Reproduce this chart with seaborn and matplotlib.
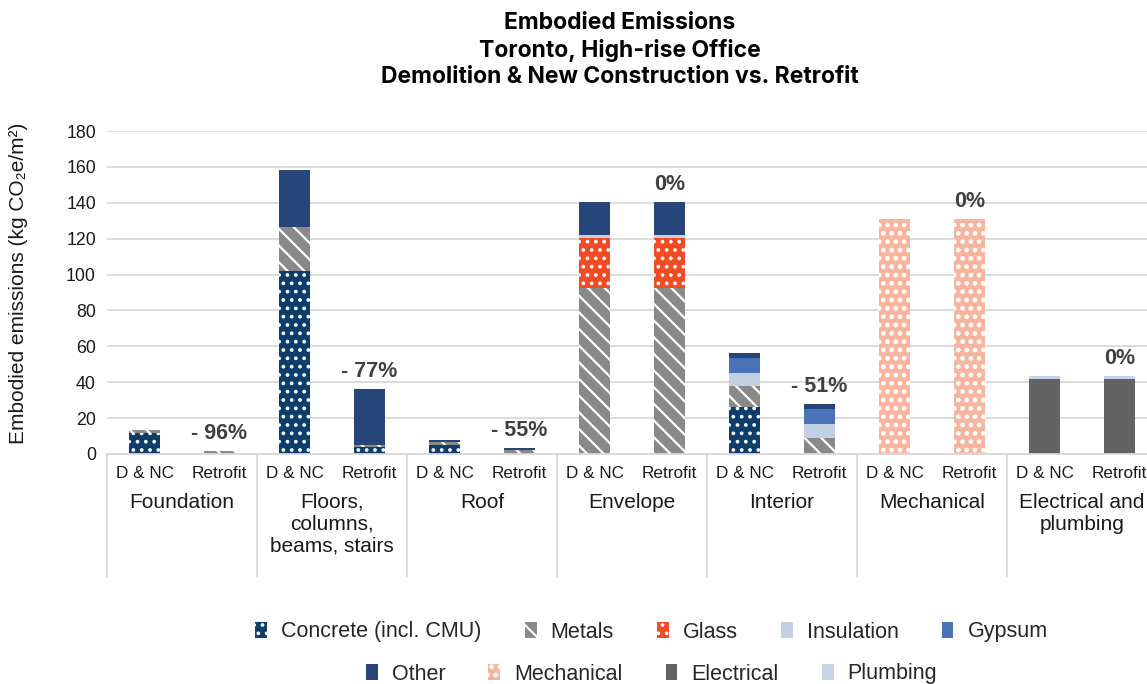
import matplotlib
matplotlib.use("Agg")
import matplotlib.pyplot as plt
import matplotlib.hatch as mhatch
import matplotlib.transforms as mtransforms
from matplotlib.patches import Patch
import numpy as np
import pandas as pd
import seaborn as sns

# ---- data -------------------------------------------------------------
groups = ["Foundation", "Floors,\ncolumns,\nbeams, stairs", "Roof", "Envelope",
          "Interior", "Mechanical", "Electrical and\nplumbing"]
scenarios = ["D & NC", "Retrofit"]
change_labels = ["- 96%", "- 77%", "- 55%", "0%", "- 51%", "0%", "0%"]

materials = ["Concrete (incl. CMU)", "Metals", "Glass", "Insulation", "Gypsum",
             "Other", "Mechanical", "Electrical", "Plumbing"]

# kg CO2e/m2, one value per bar (group x scenario)
concrete   = [11.7, 0.0, 102.2, 3.7, 5.0, 0.0, 0.0, 0.0, 26.4, 0.0, 0.0, 0.0, 0.0, 0.0]
metals     = [1.6, 1.8, 24.5, 1.3, 1.5, 2.2, 92.4, 92.4, 11.5, 9.1, 0.0, 0.0, 0.0, 0.0]
glass      = [0.0, 0.0, 0.0, 0.0, 0.0, 0.0, 28.2, 28.2, 0.0, 0.0, 0.0, 0.0, 0.0, 0.0]
insulation = [0.0, 0.0, 0.0, 0.0, 0.0, 0.0, 1.5, 1.5, 7.0, 7.4, 0.0, 0.0, 0.0, 0.0]
gypsum     = [0.0, 0.0, 0.0, 0.0, 0.0, 0.0, 0.0, 0.0, 8.7, 8.5, 0.0, 0.0, 0.0, 0.0]
other      = [0.0, 0.0, 31.3, 31.4, 1.3, 1.3, 18.5, 18.5, 2.8, 2.9, 0.0, 0.0, 0.0, 0.0]
mechanical = [0.0, 0.0, 0.0, 0.0, 0.0, 0.0, 0.0, 0.0, 0.0, 0.0, 130.8, 130.8, 0.0, 0.0]
electrical = [0.0, 0.0, 0.0, 0.0, 0.0, 0.0, 0.0, 0.0, 0.0, 0.0, 0.0, 0.0, 41.8, 41.8]
plumbing   = [0.0, 0.0, 0.0, 0.0, 0.0, 0.0, 0.0, 0.0, 0.0, 0.0, 0.0, 0.0, 1.7, 1.7]

series = [concrete, metals, glass, insulation, gypsum, other, mechanical, electrical, plumbing]

# ---- styling ----------------------------------------------------------
styles = {
    "Concrete (incl. CMU)": ("#0C3D6B", ".."),
    "Metals":               ("#898989", "\\\\"),
    "Glass":                ("#F04B23", ".."),
    "Insulation":           ("#C3CFE2", None),
    "Gypsum":               ("#4A72B9", None),
    "Other":                ("#26467A", None),
    "Mechanical":           ("#F9B49E", "oo"),
    "Electrical":           ("#636363", None),
    "Plumbing":             ("#C5D4E8", None),
}

# small white dots; filled dots for the mechanical pattern
mhatch.SmallFilledCircles.size = 0.09
mhatch.SmallCircles.filled = True
mhatch.SmallCircles.size = 0.15

sns.set_theme(style="white")
plt.rcParams["font.family"] = ["Liberation Sans", "DejaVu Sans"]
plt.rcParams["hatch.linewidth"] = 1.6

TXT = "#1a1a1a"

slots = [f"{g}|{s}" for g in groups for s in scenarios]
df = pd.DataFrame({"slot": slots})
stack = np.cumsum(np.array(series), axis=0)
for name, cum in zip(materials, stack):
    df[name] = cum

fig = plt.figure(figsize=(11.47, 6.84), dpi=100)
ax = fig.add_axes([107 / 1147, 1 - 454 / 684, 1050 / 1147, 323 / 684])

# stacked bars: draw cumulative totals from the top segment downwards
for name in reversed(materials):
    color, hatch = styles[name]
    kw = dict(edgecolor="white", linewidth=0)
    if hatch:
        kw["hatch"] = hatch
    sns.barplot(data=df, x="slot", y=name, order=slots, color=color,
                saturation=1, width=0.41, ax=ax, **kw)

ax.set_ylim(0, 180)
ax.set_xlim(-0.5, len(slots) - 0.5)
ax.set_yticks(range(0, 181, 20))
ax.yaxis.grid(True, color="#D9D9D9", lw=1.3)
ax.set_axisbelow(True)
for side in ["left", "right", "top"]:
    ax.spines[side].set_visible(False)
ax.spines["bottom"].set_color("#D9D9D9")
ax.spines["bottom"].set_linewidth(1.3)

ax.set_xticks(range(len(slots)))
ax.set_xticklabels(scenarios * len(groups), fontsize=12.3, color=TXT)
ax.tick_params(axis="x", length=0, pad=9)
ax.tick_params(axis="y", length=0, pad=8, labelsize=12.8, labelcolor=TXT)
ax.set_xlabel("")
ax.set_ylabel("")

fig.text(19 / 1147, 1 - 283 / 684, "Embodied emissions (kg CO\u2082e/m\u00b2)",
         rotation=90, ha="center", va="center", fontsize=15, color=TXT)

# category labels and separators beneath the axis
trans = mtransforms.blended_transform_factory(ax.transData, ax.transAxes)
for i, g in enumerate(groups):
    ax.text(2 * i + 0.5, -39 / 323, g, ha="center", va="top", transform=trans,
            fontsize=15, linespacing=1.2, color=TXT)
for b in np.arange(-0.5, len(slots), 2):
    ax.plot([b, b], [0, -(577 - 454) / 323], transform=trans, clip_on=False,
            color="#D9D9D9", lw=1.3)

# change labels above the retrofit bars
totals = stack[-1]
for i, lab in enumerate(change_labels):
    j = 2 * i + 1
    ax.annotate(lab, (j, totals[j]), xytext=(0, 5), textcoords="offset points",
                ha="center", va="bottom", fontsize=15.5, fontweight="bold",
                color="#404040")

fig.text(620 / 1147, 1 - 12 / 684,
         "Embodied Emissions\nToronto, High-rise Office\nDemolition & New Construction vs. Retrofit",
         ha="center", va="top", fontsize=16.5, fontweight="bold", linespacing=1.26,
         color="black", family=["Inter", "DejaVu Sans"])

# legend in two centred rows
handles = []
for name in materials:
    color, hatch = styles[name]
    handles.append(Patch(facecolor=color, edgecolor="white", linewidth=0,
                         hatch=hatch, label=name))
leg_kw = dict(loc="center", frameon=False, fontsize=15.5, handlelength=0.55,
              handleheight=0.7, handletextpad=0.65, columnspacing=2.0)
fig.legend(handles=handles[:5], ncol=5, bbox_to_anchor=(0.568, 1 - 632 / 684), **leg_kw)
fig.legend(handles=handles[5:], ncol=4, bbox_to_anchor=(0.568, 1 - 674 / 684), **leg_kw)

fig.savefig("out.png", dpi=100)
